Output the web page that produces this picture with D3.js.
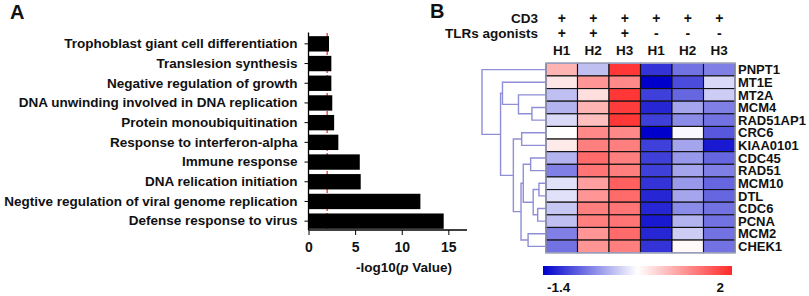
<!DOCTYPE html>
<html>
<head>
<meta charset="utf-8">
<script src="https://cdn.jsdelivr.net/npm/d3@7"></script>
<style>
  html, body { margin: 0; padding: 0; background: #fff; }
  svg { display: block; font-family: "Liberation Sans", Arial, sans-serif; font-weight: bold; }
  text { fill: #111; }
</style>
</head>
<body>
<div id="chart"></div>
<script>
// Panel A: GO terms, top to bottom
const terms = [
  "Trophoblast giant cell differentiation",
  "Translesion synthesis",
  "Negative regulation of growth",
  "DNA unwinding involved in DNA replication",
  "Protein monoubiquitination",
  "Response to interferon-alpha",
  "Immune response",
  "DNA relication initiation",
  "Negtive regulation of viral genome replication",
  "Defense response to virus"
];
const logP = [2.2, 2.45, 2.45, 2.55, 2.75, 3.2, 5.5, 5.6, 12.0, 14.5];
const cutoff = 2;
const xTicks = [0, 5, 10, 15];

// Panel B: heatmap
const genes = ["PNPT1", "MT1E", "MT2A", "MCM4", "RAD51AP1", "CRC6", "KIAA0101",
  "CDC45", "RAD51", "MCM10", "DTL", "CDC6", "PCNA", "MCM2", "CHEK1"];
const samples = ["H1", "H2", "H3", "H1", "H2", "H3"];
const cd3Row = ["+", "+", "+", "+", "+", "+"];
const tlrRow = ["+", "+", "+", "-", "-", "-"];
const zScores = [
  [0.90, -0.13, 1.90, -1.06, -0.64, -0.55],
  [0.50, 1.15, 1.24, -1.40, -0.89, 0.05],
  [-0.13, 0.56, 1.90, -0.98, -0.72, -0.04],
  [-0.21, 0.90, 1.86, -1.15, -0.30, -0.55],
  [0.05, 0.81, 1.90, -0.98, -0.47, -0.64],
  [0.30, 1.24, 1.24, -1.40, 0.25, -0.81],
  [0.47, 1.32, 1.32, -0.98, -0.30, -1.23],
  [-0.21, 1.49, 1.32, -0.98, -0.38, -0.72],
  [-0.55, 1.41, 1.32, -0.98, -0.30, -0.55],
  [0.10, 1.07, 1.58, -1.06, -0.38, -0.72],
  [0.10, 1.15, 1.49, -1.15, -0.30, -0.72],
  [-0.07, 1.32, 1.41, -1.15, -0.47, -0.64],
  [-0.13, 1.32, 1.41, -1.23, -0.21, -0.64],
  [-0.55, 1.15, 1.49, -1.15, -0.04, -0.64],
  [-0.64, 1.15, 1.32, -1.06, 0.35, -0.64]
];
// row clustering: [id, left, right, height]
const linkage = [
  ["A", "MCM4", "RAD51AP1", 0.22],
  ["B", "MT2A", "A", 0.43],
  ["M", "MT1E", "B", 0.68],
  ["D", "CRC6", "KIAA0101", 0.38],
  ["H", "CDC45", "RAD51", 0.24],
  ["J", "MCM10", "DTL", 0.11],
  ["K", "CDC6", "PCNA", 0.13],
  ["I", "J", "K", 0.20],
  ["F", "H", "I", 0.355],
  ["G", "MCM2", "CHEK1", 0.28],
  ["E", "F", "G", 0.39],
  ["N2", "D", "E", 0.51],
  ["N1", "M", "N2", 0.71],
  ["R", "PNPT1", "N1", 1.0]
];
const colorStops = [-1.4, 0.3, 2];
const colorTicks = [-1.4, 2];

const W = 809, H = 296;
const svg = d3.select("#chart").append("svg").attr("width", W).attr("height", H);

// ---------- Panel A ----------
svg.append("text").attr("x", 10).attr("y", 19).style("font-size", "20px").text("A");

const x = d3.scaleLinear().domain([0, 17]).range([308.5, 467]);
const y = d3.scaleBand().domain(terms).range([34, 231]).paddingInner(0.22).paddingOuter(0.11);
const gA = svg.append("g");

gA.append("line")
  .attr("x1", x(cutoff)).attr("x2", x(cutoff)).attr("y1", 33).attr("y2", 230)
  .attr("stroke", "#e8353a").attr("stroke-width", 1.3).attr("stroke-dasharray", "4,2");

gA.selectAll("rect.bar").data(terms).join("rect").attr("class", "bar")
  .attr("x", x(0)).attr("y", d => y(d))
  .attr("width", (d, i) => x(logP[i]) - x(0)).attr("height", y.bandwidth())
  .attr("fill", "#000");

const yAxis = gA.append("g").attr("transform", `translate(${x(0)},0)`)
  .call(d3.axisLeft(y).tickSize(4).tickPadding(7));
yAxis.select(".domain").attr("d", `M0,32.5V230`).attr("stroke-width", 1.3);
yAxis.selectAll("text").style("font-size", "13.5px").attr("fill", "#111");

const xAxis = gA.append("g").attr("transform", "translate(0,230)")
  .call(d3.axisBottom(x).tickValues(xTicks).tickSize(5).tickPadding(7));
xAxis.select(".domain").attr("d", `M${x(0)},0H${x.range()[1]}`).attr("stroke-width", 1.3);
xAxis.selectAll("text").style("font-size", "14px").attr("fill", "#111");

const xl = gA.append("text").attr("x", 404).attr("y", 272).attr("text-anchor", "middle")
  .style("font-size", "13.5px");
xl.append("tspan").text("-log10(");
xl.append("tspan").style("font-style", "italic").text("p");
xl.append("tspan").text(" Value)");

// ---------- Panel B ----------
svg.append("text").attr("x", 430).attr("y", 18).style("font-size", "20px").text("B");

const col = d3.scaleBand().domain(d3.range(samples.length)).range([546, 735]);
const row = d3.scaleBand().domain(genes).range([63.3, 252.7]);
const color = d3.scaleLinear().domain(colorStops).range(["#0000cd", "#ffffff", "#ff2a2a"]);
const gB = svg.append("g");

const hdr = [["CD3", cd3Row, 23], ["TLRs agonists", tlrRow, 38]];
hdr.forEach(([lab, vals, yy]) => {
  gB.append("text").attr("x", 538).attr("y", yy).attr("text-anchor", "end")
    .style("font-size", "13.5px").text(lab);
  gB.selectAll(null).data(vals).join("text")
    .attr("x", (d, i) => col(i) + col.bandwidth() / 2).attr("y", yy)
    .attr("text-anchor", "middle").style("font-size", "14px").text(d => d);
});
gB.selectAll("text.samp").data(samples).join("text").attr("class", "samp")
  .attr("x", (d, i) => col(i) + col.bandwidth() / 2).attr("y", 55)
  .attr("text-anchor", "middle").style("font-size", "13.5px").text(d => d);

const cells = [];
genes.forEach((g, r) => samples.forEach((s, c) => cells.push({ g, c, v: zScores[r][c] })));
gB.selectAll("rect.cell").data(cells).join("rect").attr("class", "cell")
  .attr("x", d => col(d.c)).attr("y", d => row(d.g))
  .attr("width", col.bandwidth()).attr("height", row.bandwidth())
  .attr("fill", d => color(d.v)).attr("stroke", "#111").attr("stroke-width", 1.1);
gB.append("rect")
  .attr("x", col.range()[0]).attr("y", row.range()[0])
  .attr("width", col.range()[1] - col.range()[0]).attr("height", row.range()[1] - row.range()[0])
  .attr("fill", "none").attr("stroke", "#9ea3c9").attr("stroke-width", 1.3);

gB.selectAll("text.gene").data(genes).join("text").attr("class", "gene")
  .attr("x", 738).attr("y", d => row(d) + row.bandwidth() / 2).attr("dy", "0.36em")
  .style("font-size", "13px").text(d => d);

// dendrogram
const dist = d3.scaleLinear().domain([0, 1]).range([546, 482]);
const pos = {};
genes.forEach(g => { pos[g] = { x: dist(0), y: row(g) + row.bandwidth() / 2 }; });
const dg = gB.append("g").attr("fill", "none").attr("stroke", "#8e8fd6").attr("stroke-width", 1.4);
linkage.forEach(([id, a, b, h]) => {
  const pa = pos[a], pb = pos[b], px = dist(h);
  pos[id] = { x: px, y: (pa.y + pb.y) / 2 };
  dg.append("path").attr("d", `M${pa.x},${pa.y}H${px}V${pb.y}H${pb.x}`);
});

// colour bar
const cb = d3.scaleLinear().domain([-1.4, 2]).range([543, 732]);
const grad = svg.append("defs").append("linearGradient").attr("id", "cbar");
d3.range(0, 1.0001, 0.05).forEach(t => {
  const v = cb.domain()[0] + t * (cb.domain()[1] - cb.domain()[0]);
  grad.append("stop").attr("offset", t).attr("stop-color", color(v));
});
gB.append("rect").attr("x", cb(-1.4)).attr("y", 266).attr("width", cb(2) - cb(-1.4)).attr("height", 9)
  .attr("fill", "url(#cbar)");
gB.selectAll("text.cbt").data(colorTicks).join("text").attr("class", "cbt")
  .attr("x", (d, i) => i === 0 ? cb(d) + 4 : cb(d) - 8).attr("y", 292)
  .attr("text-anchor", (d, i) => i === 0 ? "start" : "end")
  .style("font-size", "13.5px").text(d => d);
</script>
</body>
</html>
